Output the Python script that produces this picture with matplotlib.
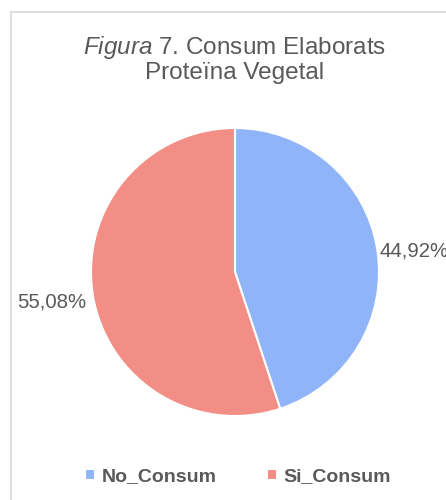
import numpy as np
import matplotlib
matplotlib.use("Agg")
import matplotlib.pyplot as plt
from matplotlib.patches import Rectangle

plt.rcParams['font.family'] = ['Liberation Sans', 'DejaVu Sans']
plt.rcParams['mathtext.fontset'] = 'custom'
plt.rcParams['mathtext.rm'] = 'Liberation Sans'
plt.rcParams['mathtext.it'] = 'Liberation Sans:italic'

categories = ["No_Consum", "Si_Consum"]
values = [44.92, 55.08]
colors = ["#8FB4F8", "#F28E86"]
text_col = "#595959"

fig = plt.figure(figsize=(4.46, 5.0), dpi=100)

# marc gris del grafic
fig.patches.append(Rectangle((11 / 446, -0.1), 1.2, (500 - 12) / 500 + 0.1,
                             transform=fig.transFigure, fill=False,
                             edgecolor="#D9D9D9", linewidth=1.2))

ax = fig.add_axes([(235 - 144) / 446, (228 - 144) / 500, 288 / 446, 288 / 500])
wedges, texts, autotexts = ax.pie(
    values, colors=colors, startangle=90, counterclock=False,
    wedgeprops=dict(edgecolor="white", linewidth=1.5),
    autopct=lambda p: f"{p:.2f}%".replace(".", ","), pctdistance=1.27,
    textprops=dict(color=text_col, fontsize=14.7))

# etiquetes una mica desplacades com a l'original
for w, t, da, r in zip(wedges, autotexts, [-2.5, 0.0], [1.25, 1.29]):
    mid = np.deg2rad((w.theta1 + w.theta2) / 2 + da)
    t.set_position((r * np.cos(mid), r * np.sin(mid)))

ax.set_xlim(-1, 1)
ax.set_ylim(-1, 1)
ax.set_aspect("equal")

# titol amb "Figura" en cursiva
fig.text(235 / 446, 1 - 59 / 500,
         "$\\it{Figura}$ 7. Consum Elaborats\nProteïna Vegetal",
         fontsize=17.5, color=text_col, ha="center", va="center",
         linespacing=1.05)

leg = fig.legend(wedges, categories, loc="center", bbox_to_anchor=(238 / 446, 1 - 477 / 500),
                 ncol=2, frameon=False, handlelength=0.5, handleheight=0.5,
                 handletextpad=0.35, columnspacing=2.6,
                 prop=dict(weight="bold", size=14))
for t in leg.get_texts():
    t.set_color(text_col)

fig.savefig("out.png", dpi=100)
